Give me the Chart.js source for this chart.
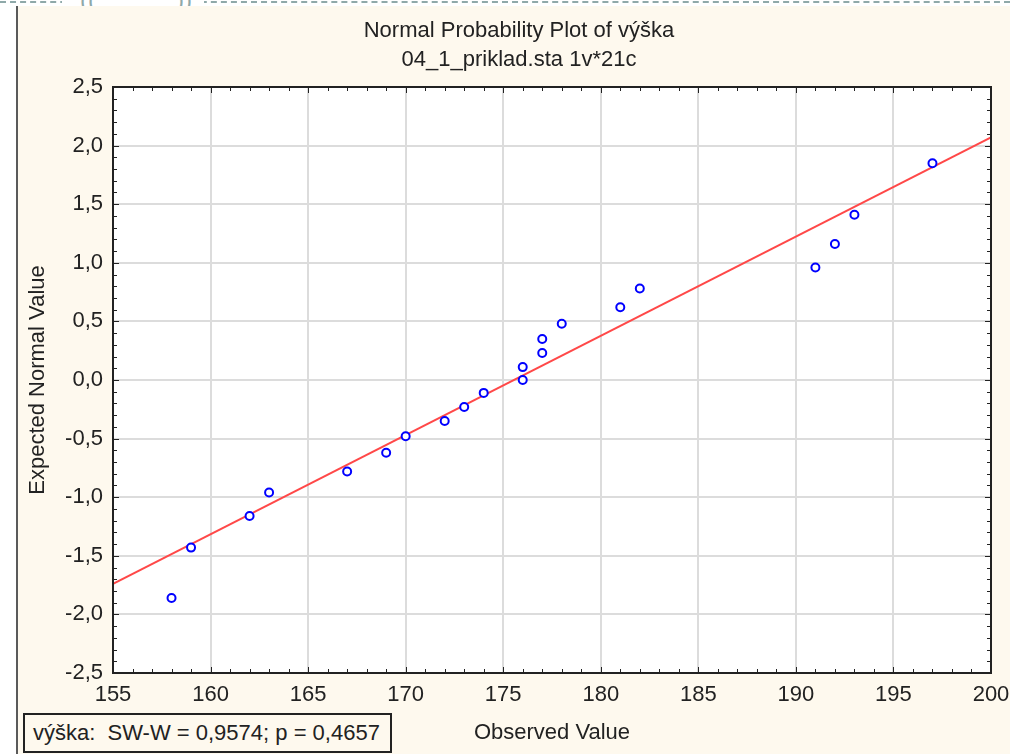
<!DOCTYPE html>
<html>
<head>
<meta charset="utf-8">
<script src="https://cdn.jsdelivr.net/npm/chart.js@4"></script>
<style>
  html, body { margin: 0; padding: 0; background: #ffffff; }
  body { width: 1010px; height: 754px; position: relative; overflow: hidden; font-family: "Liberation Sans", Arial, sans-serif; }
  .topline { position: absolute; left: 0; top: 1px; width: 1010px; border-top: 2px dashed #8fa9a9; }
  .gap { position: absolute; left: 62px; top: 0; width: 142px; height: 6px; background: #fff; }
  .paren { position: absolute; top: -14px; color: #8fa9a9; font-size: 24px; }
  .panel { position: absolute; left: 16px; top: 6px; width: 994px; height: 748px; background: #fef9ee; border-left: 2px solid #5a5a5a; }
  #wrap { position: absolute; left: 0; top: 0; width: 1010px; height: 754px; }
  .stat { position: absolute; left: 23px; top: 713px; width: 357px; height: 36px; border: 2px solid #222; background: #fef9ee;
          font-size: 22px; line-height: 36px; color: #222; padding-left: 8px; white-space: pre; }
</style>
</head>
<body>
<div class="topline"></div>
<div class="gap"></div>
<div class="paren" style="left:80px">((</div>
<div class="paren" style="left:176px">))</div>
<div class="panel"></div>
<div id="wrap"><canvas id="npp" width="1010" height="754"></canvas></div>
<div class="stat">výška:  SW-W = 0,9574; p = 0,4657</div>
<script>
// data
const observed = [158, 159, 162, 163, 167, 169, 170, 172, 173, 174, 176, 176, 177, 177, 178, 181, 182, 191, 192, 193, 197];
const expected = [-1.86, -1.43, -1.16, -0.96, -0.78, -0.62, -0.48, -0.35, -0.23, -0.11, 0.0, 0.11, 0.23, 0.35, 0.48, 0.62, 0.78, 0.96, 1.16, 1.41, 1.85];
const fitX = [155, 200];
const fitY = [-1.74, 2.07];
const xTicks = [155, 160, 165, 170, 175, 180, 185, 190, 195, 200];
const yTicks = [-2.5, -2.0, -1.5, -1.0, -0.5, 0.0, 0.5, 1.0, 1.5, 2.0, 2.5];
const titleLines = ["Normal Probability Plot of výška", "04_1_priklad.sta 1v*21c"];

const FONT = '"Liberation Sans", Arial, sans-serif';
const TXT = '#222222';
const FS = 22;

const framePlugin = {
  id: 'frame',
  beforeDraw(chart) {
    const {ctx, chartArea: a} = chart;
    ctx.save();
    ctx.fillStyle = '#ffffff';
    ctx.fillRect(a.left, a.top, a.right - a.left, a.bottom - a.top);
    ctx.restore();
  },
  afterDraw(chart) {
    const {ctx, chartArea: a, scales} = chart;
    ctx.save();
    ctx.strokeStyle = '#222';
    ctx.lineWidth = 1;
    // inward ticks, 4 minor between majors
    for (let i = 0; i < xTicks.length; i++) {
      for (let k = 0; k < 5; k++) {
        if (i === xTicks.length - 1 && k > 0) break;
        const px = Math.round(scales.x.getPixelForValue(xTicks[i] + k)) + 0.5;
        const len = k === 0 ? 6 : 4;
        ctx.beginPath();
        ctx.moveTo(px, a.bottom); ctx.lineTo(px, a.bottom - len);
        ctx.moveTo(px, a.top); ctx.lineTo(px, a.top + len);
        ctx.stroke();
      }
    }
    for (let i = 0; i < yTicks.length; i++) {
      for (let k = 0; k < 5; k++) {
        if (i === yTicks.length - 1 && k > 0) break;
        const py = Math.round(scales.y.getPixelForValue(yTicks[i] + k * 0.1)) + 0.5;
        const len = k === 0 ? 6 : 4;
        ctx.beginPath();
        ctx.moveTo(a.left, py); ctx.lineTo(a.left + len, py);
        ctx.moveTo(a.right, py); ctx.lineTo(a.right - len, py);
        ctx.stroke();
      }
    }
    ctx.lineWidth = 2;
    ctx.strokeRect(a.left, a.top, a.right - a.left, a.bottom - a.top);
    // titles
    ctx.fillStyle = TXT;
    ctx.font = FS + 'px ' + FONT;
    ctx.textAlign = 'center';
    ctx.textBaseline = 'middle';
    ctx.fillText(titleLines[0], 519, 31);
    ctx.fillText(titleLines[1], 519, 60);
    ctx.restore();
  }
};

new Chart(document.getElementById('npp'), {
  type: 'scatter',
  data: {
    datasets: [
      {
        label: 'výška',
        data: observed.map((v, i) => ({x: v, y: expected[i]})),
        pointStyle: 'circle',
        pointRadius: 4,
        pointBorderWidth: 2,
        pointBorderColor: '#0000ff',
        pointBackgroundColor: '#ffffff',
        order: 1
      },
      {
        type: 'line',
        label: 'fit',
        data: fitX.map((v, i) => ({x: v, y: fitY[i]})),
        borderColor: '#ff4848',
        borderWidth: 2,
        pointRadius: 0,
        fill: false,
        order: 2
      }
    ]
  },
  options: {
    responsive: false,
    animation: false,
    layout: { padding: { left: 20, right: 19, top: 87, bottom: 0 } },
    plugins: { legend: { display: false }, tooltip: { enabled: false } },
    scales: {
      x: {
        type: 'linear',
        min: 155, max: 200,
        afterBuildTicks: s => { s.ticks = xTicks.map(v => ({value: v})); },
        afterFit: s => { s.height = 81; s.paddingLeft = 0; s.paddingRight = 0; },
        grid: { color: '#dcdcdc', lineWidth: 2, drawTicks: false },
        border: { display: false },
        ticks: { padding: 9, color: TXT, font: { family: FONT, size: FS }, maxRotation: 0, callback: v => String(v) },
        title: { display: true, text: 'Observed Value', color: TXT, font: { family: FONT, size: FS }, padding: { bottom: 8, top: 0 } }
      },
      y: {
        type: 'linear',
        min: -2.5, max: 2.5,
        afterBuildTicks: s => { s.ticks = yTicks.map(v => ({value: v})); },
        afterFit: s => { s.width = 93; s.paddingTop = 0; s.paddingBottom = 0; },
        grid: { color: '#dcdcdc', lineWidth: 2, drawTicks: false },
        border: { display: false },
        ticks: { padding: 10, color: TXT, font: { family: FONT, size: FS }, callback: v => v.toFixed(1).replace('.', ',') },
        title: { display: true, text: 'Expected Normal Value', color: TXT, font: { family: FONT, size: FS }, padding: { top: 5, bottom: 0 } }
      }
    }
  },
  plugins: [framePlugin]
});
</script>
</body>
</html>
